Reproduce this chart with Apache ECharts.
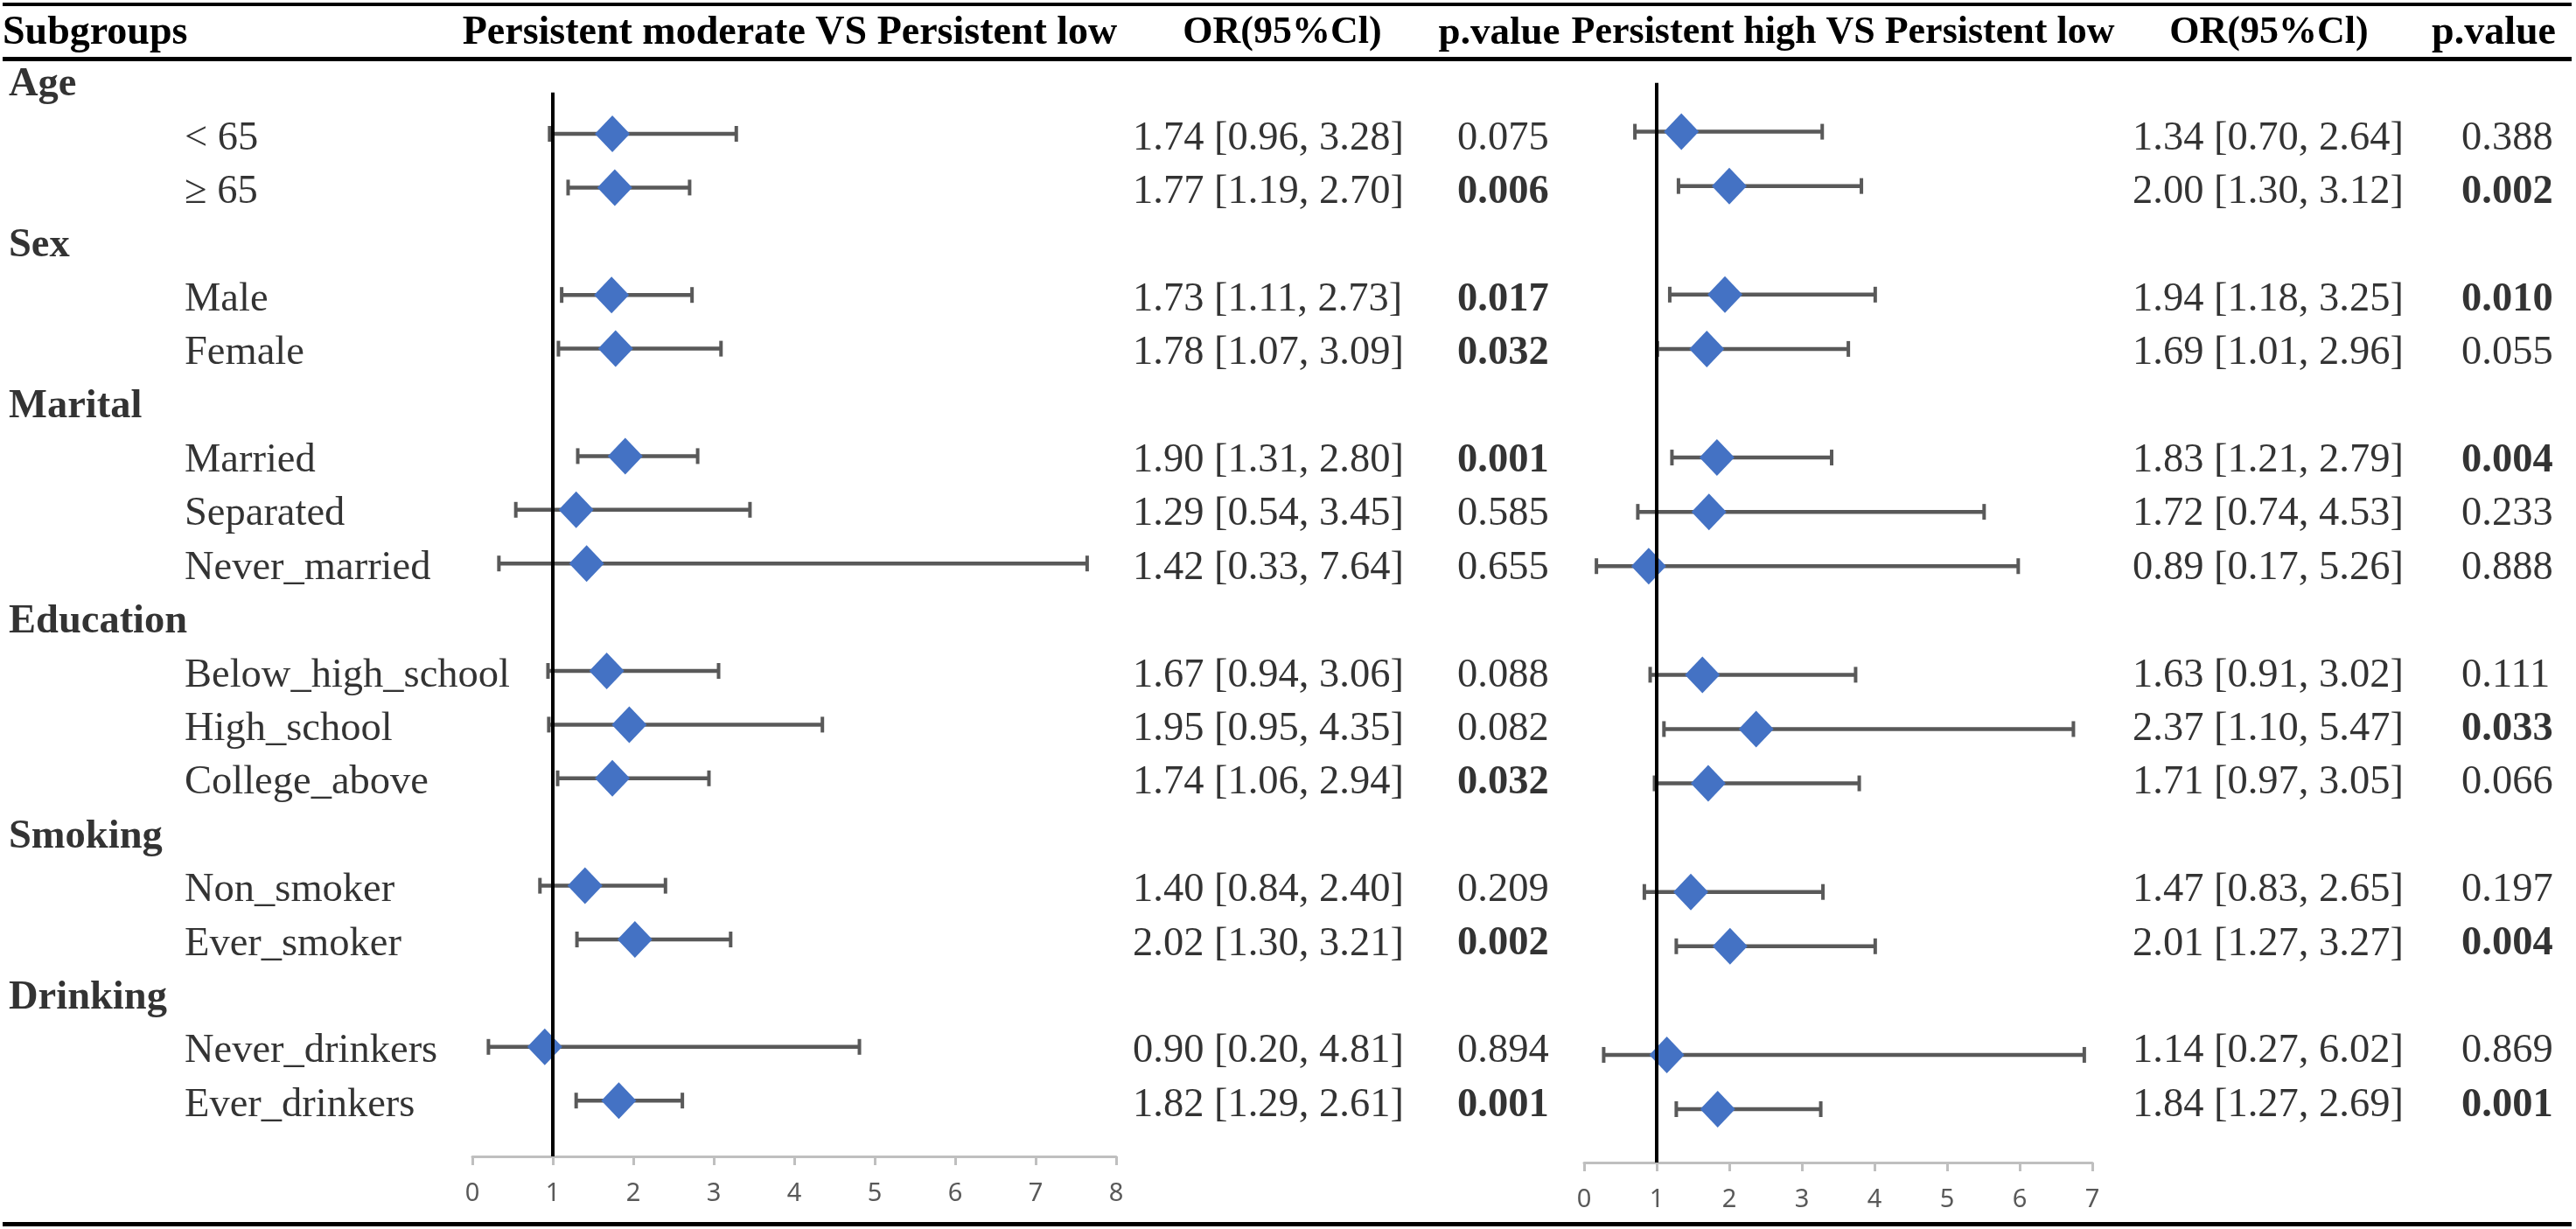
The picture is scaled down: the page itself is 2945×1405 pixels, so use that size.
<!DOCTYPE html>
<html><head><meta charset="utf-8">
<script src="https://cdn.jsdelivr.net/npm/echarts@6/dist/echarts.min.js"></script>
<style>html,body{margin:0;padding:0;background:#fff}#c{width:2945px;height:1405px}</style>
</head><body><div id="c"></div><script>
// ---------------- data ----------------
const rowLabels = ['Age','< 65','≥ 65','Sex','Male','Female','Marital','Married','Separated','Never_married',
  'Education','Below_high_school','High_school','College_above','Smoking','Non_smoker','Ever_smoker',
  'Drinking','Never_drinkers','Ever_drinkers'];
const isGroupRow = [1,0,0,1,0,0,1,0,0,0,1,0,0,0,1,0,0,1,0,0];
const subgroupRows = [1,2,4,5,7,8,9,11,12,13,15,16,18,19];

const headers = ['Subgroups','Persistent moderate VS Persistent low','OR(95%Cl)','p.value',
  'Persistent high VS Persistent low','OR(95%Cl)','p.value'];

// Persistent moderate VS Persistent low
const orModerate = [1.74,1.77,1.73,1.78,1.90,1.29,1.42,1.67,1.95,1.74,1.40,2.02,0.90,1.82];
const loModerate = [0.96,1.19,1.11,1.07,1.31,0.54,0.33,0.94,0.95,1.06,0.84,1.30,0.20,1.29];
const hiModerate = [3.28,2.70,2.73,3.09,2.80,3.45,7.64,3.06,4.35,2.94,2.40,3.21,4.81,2.61];
const pModerate  = ['0.075','0.006','0.017','0.032','0.001','0.585','0.655','0.088','0.082','0.032','0.209','0.002','0.894','0.001'];

// Persistent high VS Persistent low
const orHigh = [1.34,2.00,1.94,1.69,1.83,1.72,0.89,1.63,2.37,1.71,1.47,2.01,1.14,1.84];
const loHigh = [0.70,1.30,1.18,1.01,1.21,0.74,0.17,0.91,1.10,0.97,0.83,1.27,0.27,1.27];
const hiHigh = [2.64,3.12,3.25,2.96,2.79,4.53,5.26,3.02,5.47,3.05,2.65,3.27,6.02,2.69];
const pHigh  = ['0.388','0.002','0.010','0.055','0.004','0.233','0.888','0.111','0.033','0.066','0.197','0.004','0.869','0.001'];
// right ends of the whiskers as drawn in the right panel
const whiskerEndHigh = [3.28,3.82,4.01,3.64,3.41,5.51,5.98,3.74,6.74,3.79,3.29,4.01,6.89,3.26];

const ticksModerate = [0,1,2,3,4,5,6,7,8];
const ticksHigh = [0,1,2,3,4,5,6,7];

// ---------------- layout ----------------
const SERIF = "'Liberation Serif','Times New Roman',serif";
const FS = 46.5;
const HFS = [46, 46, 44, 45, 44, 44, 46];
const LP = {row0: 91.6, step: 61.4, axisY: 1322, x0: 540, x1: 1276, refTop: 0.23};
const RP = {row0: 88.5, step: 62.08, axisY: 1329, x0: 1811, x1: 2392, refTop: 0.1};
const TX = {row0: 97, step: 61.4};
const colX = {group: 9, sub: 210, or1: 1294, p1: 1665, or2: 2437, p2: 2813};

function plotGrid(P){ return {left: P.x0, width: P.x1 - P.x0, top: P.row0 - P.step, height: P.axisY - (P.row0 - P.step)}; }
function textGrid(x){ return {left: x, width: 10, top: TX.row0 - TX.step, height: 21 * TX.step}; }
const fmt = v => v.toFixed(2);

const grids = [plotGrid(LP), plotGrid(RP)];
const colKeys = ['group','sub','or1','p1','or2','p2'];
colKeys.forEach(k => grids.push(textGrid(colX[k])));

const xAxes = [], yAxes = [];
function valueX(ticks, gi){
  return {type:'value', gridIndex: gi, position:'bottom', min: ticks[0], max: ticks[ticks.length-1], interval: 1,
    axisLine:{show:true, onZero:false, lineStyle:{color:'#BFBFBF', width:3}},
    axisTick:{show:true, length:10, lineStyle:{color:'#BFBFBF', width:3}},
    axisLabel:{color:'#595959', fontSize:29, fontFamily:"'Noto Sans',sans-serif", margin:28},
    splitLine:{show:false}};
}
xAxes.push(valueX(ticksModerate, 0));
xAxes.push(valueX(ticksHigh, 1));
yAxes.push({type:'value', gridIndex:0, inverse:true, min:-1, max:(LP.axisY-LP.row0)/LP.step, show:false});
yAxes.push({type:'value', gridIndex:1, inverse:true, min:-1, max:(RP.axisY-RP.row0)/RP.step, show:false});
for (let i = 0; i < colKeys.length; i++) {
  xAxes.push({type:'value', gridIndex:i+2, min:0, max:1, show:false});
  yAxes.push({type:'value', gridIndex:i+2, inverse:true, min:-1, max:20, show:false});
}

function errRender(params, api){
  const y = api.value(2);
  const a = api.coord([api.value(0), y]);
  const b = api.coord([api.value(1), y]);
  const cap = 9;
  return {type:'group', children:[
    {type:'line', shape:{x1:a[0], y1:a[1], x2:b[0], y2:b[1]}, style:{stroke:'#595959', lineWidth:4.5}},
    {type:'line', shape:{x1:a[0], y1:a[1]-cap, x2:a[0], y2:a[1]+cap}, style:{stroke:'#595959', lineWidth:4}},
    {type:'line', shape:{x1:b[0], y1:b[1]-cap, x2:b[0], y2:b[1]+cap}, style:{stroke:'#595959', lineWidth:4}}
  ]};
}

const series = [];
[[0, loModerate, hiModerate, orModerate, LP], [1, loHigh, whiskerEndHigh, orHigh, RP]].forEach(([gi, lo, hi, or, P]) => {
  series.push({type:'custom', xAxisIndex:gi, yAxisIndex:gi, renderItem: errRender, z:2,
    encode:{x:[0,1], y:2}, data: subgroupRows.map((r,i) => [lo[i], hi[i], r])});
  series.push({type:'scatter', xAxisIndex:gi, yAxisIndex:gi, symbol:'diamond', symbolSize:[40,42], z:3,
    itemStyle:{color:'#4472C4', opacity:1}, data: subgroupRows.map((r,i) => [or[i], r])});
  series.push({type:'line', xAxisIndex:gi, yAxisIndex:gi, symbol:'none', z:4,
    lineStyle:{color:'#000', width:4},
    data: [[1, P.refTop], [1, (P.axisY-P.row0)/P.step]]});
});

function textSeries(gi, items){
  return {type:'scatter', xAxisIndex:gi, yAxisIndex:gi, symbolSize:2, itemStyle:{color:'rgba(0,0,0,0)'},
    label:{show:true, position:'right', distance:0, color:'#000', fontFamily:SERIF, fontSize:FS,
      formatter: p => p.data.t},
    data: items};
}
series.push(textSeries(2, rowLabels.map((t,k) => ({value:[0,k], t, label:{fontWeight:'bold'}})).filter((d,k) => isGroupRow[k])));
series.push(textSeries(3, rowLabels.map((t,k) => ({value:[0,k], t})).filter((d,k) => !isGroupRow[k])));
series.push(textSeries(4, subgroupRows.map((r,i) => ({value:[0,r], t: fmt(orModerate[i]) + ' [' + fmt(loModerate[i]) + ', ' + fmt(hiModerate[i]) + ']'}))));
series.push(textSeries(5, subgroupRows.map((r,i) => ({value:[0,r], t: pModerate[i], label:{fontWeight: parseFloat(pModerate[i]) < 0.05 ? 'bold' : 'normal'}}))));
series.push(textSeries(6, subgroupRows.map((r,i) => ({value:[0,r], t: fmt(orHigh[i]) + ' [' + fmt(loHigh[i]) + ', ' + fmt(hiHigh[i]) + ']'}))));
series.push(textSeries(7, subgroupRows.map((r,i) => ({value:[0,r], t: pHigh[i], label:{fontWeight: parseFloat(pHigh[i]) < 0.05 ? 'bold' : 'normal'}}))));

const headerPos = [[3,'left'],[903,'center'],[1466,'center'],[1714,'center'],[2107,'center'],[2594,'center'],[2851,'center']];
const graphic = headers.map((h,i) => ({type:'text', x: headerPos[i][0], y: 38,
  style:{text:h, fill:'#000', font:'bold ' + HFS[i] + 'px ' + SERIF, textAlign: headerPos[i][1], textVerticalAlign:'middle'}}));
[[3,4],[65,5],[1397,5]].forEach(([y,h]) => graphic.push({type:'rect', shape:{x:3, y:y, width:2937, height:h}, style:{fill:'#000'}}));

const chart = echarts.init(document.getElementById('c'));
chart.setOption({animation:false, backgroundColor:'#fff', grid:grids, xAxis:xAxes, yAxis:yAxes, series, graphic});
</script></body></html>
